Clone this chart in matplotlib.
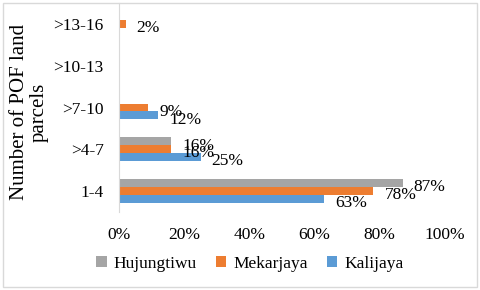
import numpy as np
import matplotlib.pyplot as plt
from matplotlib.patches import Rectangle

plt.rcParams['font.family'] = ['Liberation Serif', 'DejaVu Serif']
plt.rcParams['font.size'] = 12.5

categories = ['1-4', '>4-7', '>7-10', '>10-13', '>13-16']
hujungtiwu = [87, 16, 0, 0, 0]
mekarjaya = [78, 16, 9, 0, 2]
kalijaya = [63, 25, 12, 0, 0]

series = [('Hujungtiwu', hujungtiwu, '#A5A5A5', 0.19),
          ('Mekarjaya', mekarjaya, '#ED7D31', 0.0),
          ('Kalijaya', kalijaya, '#5B9BD5', -0.19)]

fig = plt.figure(figsize=(4.8, 2.9), dpi=100)
ax = fig.add_axes([119 / 480, 1 - 212 / 290, 326 / 480, 209 / 290])

ind = np.arange(len(categories))
h = 0.19
for name, vals, color, off in series:
    v = np.array(vals) / 100.0
    rects = ax.barh(ind + off, v, h, color=color, label=name)
    # data labels, skip empty bars
    for rect, val in zip(rects, vals):
        if val <= 0:
            continue
        ax.annotate('%d%%' % val, (rect.get_width(), rect.get_y() + h / 2),
                    xytext=(8, -3), textcoords='offset points',
                    ha='left', va='center')

ax.set_xlim(0, 1)
ax.set_ylim(-0.5, 4.5)
ax.set_xticks(np.linspace(0, 1, 6))
ax.set_xticklabels(['%d%%' % x for x in range(0, 101, 20)])
ax.set_yticks(ind)
ax.set_yticklabels(categories)
ax.tick_params(axis='both', length=0)
ax.tick_params(axis='x', pad=11)
ax.tick_params(axis='y', pad=11)
for s in ['top', 'right', 'bottom']:
    ax.spines[s].set_visible(False)
ax.spines['left'].set_color('#D9D9D9')

ax.set_ylabel('Number of POF land\nparcels', va='center', linespacing=1.1, fontsize=15)
ax.yaxis.set_label_coords(-0.275, 0.478)

handles, labels = ax.get_legend_handles_labels()
fig.legend(handles, labels, loc='center', bbox_to_anchor=(250 / 480, 1 - 264 / 290),
           ncol=3, frameon=False, handlelength=0.6, handleheight=0.6,
           handletextpad=0.4, columnspacing=1.1)

fig.patches.append(Rectangle((3 / 480, 3 / 290), 474 / 480, 284 / 290,
                             transform=fig.transFigure, fill=False,
                             edgecolor='#D9D9D9', linewidth=1))

plt.savefig('out.png', dpi=100, facecolor='w')
